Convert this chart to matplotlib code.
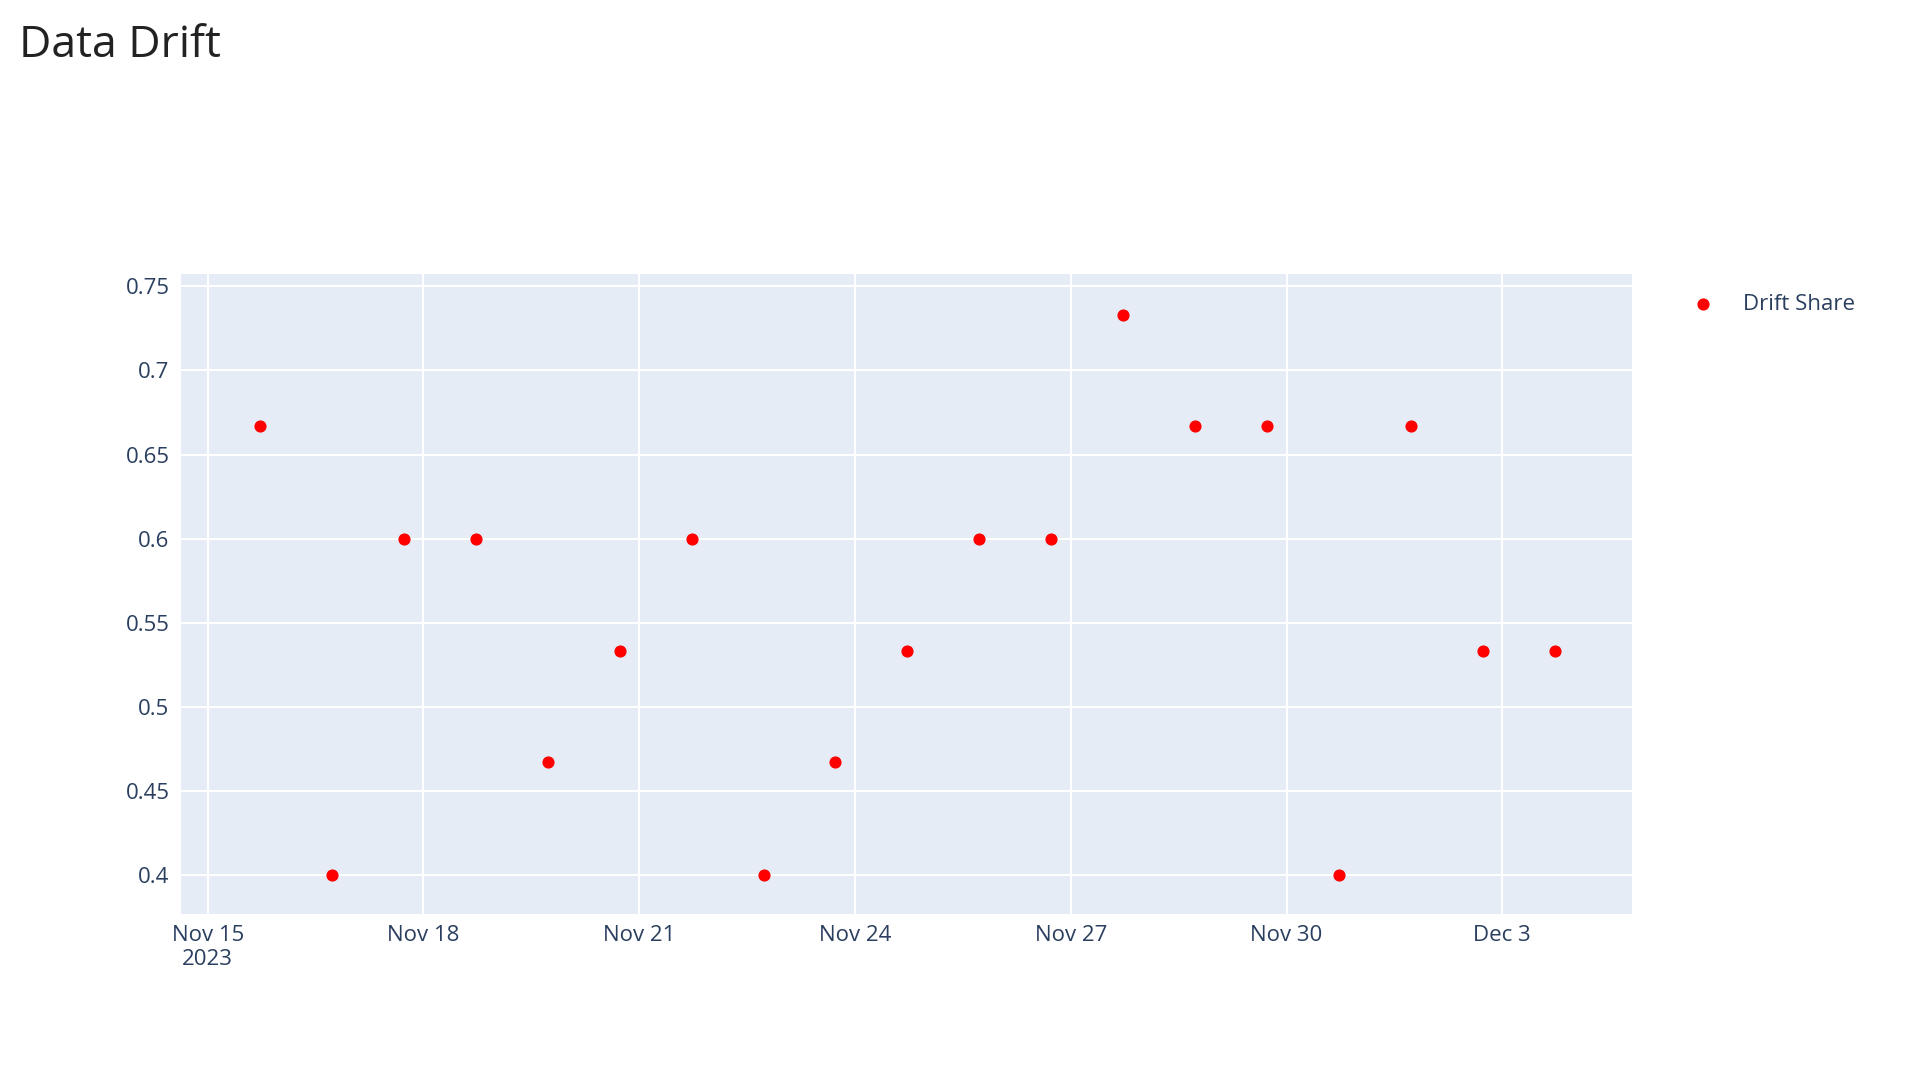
import numpy as np
import matplotlib.pyplot as plt
import matplotlib.dates as mdates
from datetime import datetime, timedelta

start = datetime(2023, 11, 15, 17, 30)
dates = [start + timedelta(days=i) for i in range(19)]
drift_share = [0.667, 0.4, 0.6, 0.6, 0.467, 0.533, 0.6, 0.4, 0.467, 0.533,
               0.6, 0.6, 0.733, 0.667, 0.667, 0.4, 0.667, 0.533, 0.533]
yticks = [0.4, 0.45, 0.5, 0.55, 0.6, 0.65, 0.7, 0.75]
ytick_labels = ['0.4', '0.45', '0.5', '0.55', '0.6', '0.65', '0.7', '0.75']
xtick_dates = [datetime(2023, 11, 15), datetime(2023, 11, 18), datetime(2023, 11, 21),
               datetime(2023, 11, 24), datetime(2023, 11, 27), datetime(2023, 11, 30),
               datetime(2023, 12, 3)]
xtick_labels = ['Nov 15\n2023', 'Nov 18', 'Nov 21', 'Nov 24', 'Nov 27', 'Nov 30', 'Dec 3']

plt.rcParams['font.family'] = ['Open Sans', 'DejaVu Sans']
fig = plt.figure(figsize=(19.22, 10.88), dpi=100)
ax = fig.add_axes([0.094, 0.160, 0.755, 0.588])
ax.set_facecolor('#e5ecf6')
ax.scatter(dates, drift_share, s=60, color='#ff0000', zorder=3, label='Drift Share')

ax.set_xlim(datetime(2023, 11, 15) - timedelta(days=0.375), datetime(2023, 11, 15) + timedelta(days=19.8))
ax.set_ylim(0.3767, 0.7573)
ax.set_yticks(yticks)
ax.set_yticklabels(ytick_labels)
ax.set_xticks(xtick_dates)
ax.set_xticklabels(xtick_labels)
ax.grid(color='white', linewidth=1.5)
ax.set_axisbelow(True)
for s in ax.spines.values():
    s.set_visible(False)
ax.tick_params(length=0, labelsize=16, colors='#2a3f5f', pad=8)

fig.text(0.01, 0.958, 'Data Drift', fontsize=32, color='#222222', va='center')
ax.legend(loc='upper left', bbox_to_anchor=(1.02, 1.0), frameon=False, fontsize=16,
          labelcolor='#2a3f5f', handletextpad=0.8)

fig.savefig('out.png', dpi=100)
